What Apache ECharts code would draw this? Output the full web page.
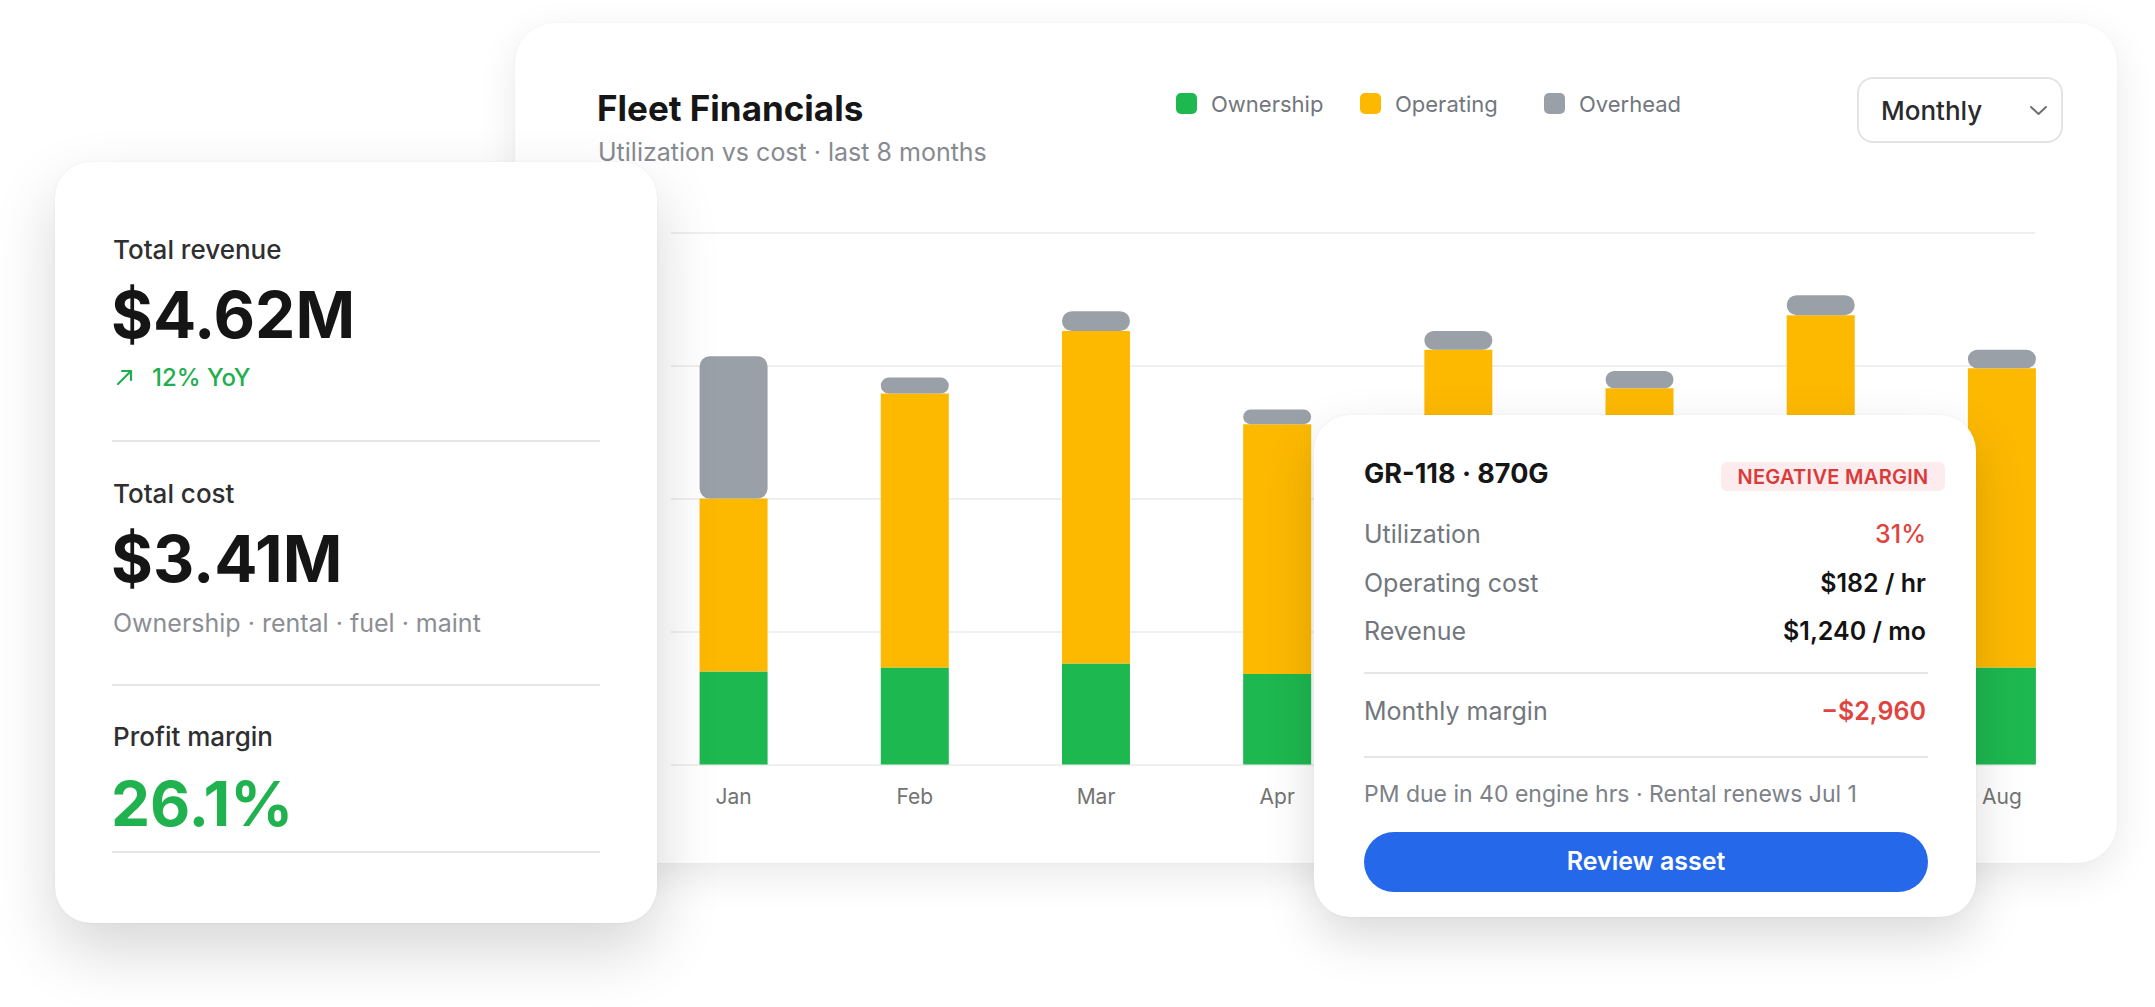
<!DOCTYPE html>
<html>
<head>
<meta charset="utf-8">
<title>Fleet Financials</title>
<script src="https://cdn.jsdelivr.net/npm/echarts@6/dist/echarts.min.js"></script>
<style>
  html, body { margin:0; padding:0; width:2155px; height:1007px; background:#ffffff; overflow:hidden;
    font-family: Inter, "Noto Sans", "Liberation Sans", sans-serif; }
  .card { position:absolute; background:#ffffff; }
  #mainCard { left:515px; top:23px; width:1602px; height:840px; border-radius:40px;
    box-shadow: 0 12px 40px rgba(0,0,0,0.09), 0 0 3px rgba(0,0,0,0.04); z-index:1; }
  #chart { position:absolute; left:0; top:0; width:2155px; height:1007px; z-index:2; }
  #kpiCard { left:55px; top:162px; width:602px; height:761px; border-radius:36px;
    box-shadow: 0 28px 64px rgba(0,0,0,0.16), 0 0 3px rgba(0,0,0,0.05); z-index:3; }
  #tipCard { left:1314px; top:415px; width:662px; height:502px; border-radius:36px;
    box-shadow: 0 20px 50px rgba(0,0,0,0.15), 0 0 3px rgba(0,0,0,0.05); z-index:3; }
  .t { position:absolute; line-height:1; white-space:nowrap; z-index:5; }
  .rule { position:absolute; height:2px; background:#e6e6e8; z-index:5; }
  .lbl { font-size:26px; color:#2f2f31; font-weight:500; }
  .big { font-size:64px; color:#151515; font-weight:700; }
  .row { font-size:25px; color:#72767d; }
  .val { font-size:25px; color:#131313; font-weight:600; text-align:right; }
  #dropdown { position:absolute; left:1857px; top:77px; width:202px; height:62px; border:2px solid #e4e4e6;
    border-radius:16px; background:#fff; z-index:4; }
  #badge { position:absolute; left:1721px; top:462px; width:224px; height:29px; border-radius:6px;
    background:#fdeced; z-index:4; }
  #button { position:absolute; left:1364px; top:832px; width:564px; height:60px; border-radius:30px;
    background:#2568e9; z-index:4; }
</style>
</head>
<body>
<div id="mainCard" class="card"></div>
<div id="chart"></div>
<div id="kpiCard" class="card"></div>
<div id="tipCard" class="card"></div>

<!-- KPI card texts -->
<div class="t lbl" style="left:113px; top:237px;">Total revenue</div>
<div class="t big" style="left:111px; top:283px;">$4.62M</div>
<svg style="position:absolute; left:112px; top:365px; z-index:5;" width="26" height="24" viewBox="0 0 26 24">
  <path d="M6 19 L19 6 M10 6 H19 V15" fill="none" stroke="#22ae4f" stroke-width="2.2" stroke-linecap="round" stroke-linejoin="round"/>
</svg>
<div class="t" style="left:152px; top:366px; font-size:24px; font-weight:500; color:#22ae4f;">12% YoY</div>
<div class="rule" style="left:112px; top:440px; width:488px;"></div>
<div class="t lbl" style="left:113px; top:481px;">Total cost</div>
<div class="t big" style="left:111px; top:527px;">$3.41M</div>
<div class="t" style="left:113px; top:611px; font-size:25px; color:#8b8e94;">Ownership · rental · fuel · maint</div>
<div class="rule" style="left:112px; top:684px; width:488px;"></div>
<div class="t lbl" style="left:113px; top:724px;">Profit margin</div>
<div class="t big" style="left:111px; top:773px; font-size:62px; color:#1fb24f;">26.1%</div>
<div class="rule" style="left:112px; top:851px; width:488px;"></div>

<!-- Dropdown -->
<div id="dropdown"></div>
<div class="t" style="left:1881px; top:98px; font-size:26px; color:#2a2a2c; font-weight:500;">Monthly</div>
<svg style="position:absolute; left:2026px; top:102px; z-index:5;" width="26" height="18" viewBox="0 0 26 18">
  <path d="M5 5 L12.5 12 L20 5" fill="none" stroke="#707074" stroke-width="2" stroke-linecap="round" stroke-linejoin="round"/>
</svg>

<!-- Tooltip card texts -->
<div class="t" style="left:1364px; top:460px; font-size:27px; font-weight:700; color:#161616;">GR-118 · 870G</div>
<div id="badge"></div>
<div class="t" style="left:1721px; top:467px; width:224px; text-align:center; font-size:20px; font-weight:600; color:#d93b3b; letter-spacing:0.3px;">NEGATIVE MARGIN</div>
<div class="t row" style="left:1364px; top:522px;">Utilization</div>
<div class="t val" style="right:229px; top:522px; color:#e0443e; font-weight:500;">31%</div>
<div class="t row" style="left:1364px; top:571px;">Operating cost</div>
<div class="t val" style="right:229px; top:571px;">$182 / hr</div>
<div class="t row" style="left:1364px; top:619px;">Revenue</div>
<div class="t val" style="right:229px; top:619px;">$1,240 / mo</div>
<div class="rule" style="left:1364px; top:672px; width:564px;"></div>
<div class="t row" style="left:1364px; top:699px;">Monthly margin</div>
<div class="t val" style="right:229px; top:699px; color:#e0443e;">−$2,960</div>
<div class="rule" style="left:1364px; top:756px; width:564px;"></div>
<div class="t" style="left:1364px; top:783px; font-size:23px; color:#7d8188;">PM due in 40 engine hrs · Rental renews Jul 1</div>
<div id="button"></div>
<div class="t" style="left:1364px; top:849px; width:564px; text-align:center; font-size:25px; font-weight:600; color:#ffffff;">Review asset</div>

<script>
// ---- data ----
const months = ['Jan', 'Feb', 'Mar', 'Apr', 'May', 'Jun', 'Jul', 'Aug'];
const ownership = [70, 73, 76, 68, 71, 72, 75, 73];
const operating = [130, 206, 250, 188, 241, 211, 263, 225];
const overhead = [107, 12, 15, 11, 14, 13, 15, 14];
const seriesNames = ['Ownership', 'Operating', 'Overhead'];
const seriesColors = ['#1db84f', '#fdb900', '#9aa0a8'];
const yMin = 0;
const yMax = 400;
const yStep = 100;
// month labels that sit underneath the asset detail card in the reference
const labelsUnderCard = ['May', 'Jun', 'Jul'];

const chart = echarts.init(document.getElementById('chart'), null, { renderer: 'svg' });

const legendLefts = [1176, 1360, 1544];
const roundSquare = 'path://M5,0 H16 A5,5 0 0 1 21,5 V16 A5,5 0 0 1 16,21 H5 A5,5 0 0 1 0,16 V5 A5,5 0 0 1 5,0 Z';

const option = {
  animation: false,
  backgroundColor: 'transparent',
  textStyle: { fontFamily: 'Inter, "Noto Sans", sans-serif' },
  title: [
    { text: 'Fleet Financials', left: 597, top: 90, padding: 0,
      textStyle: { fontFamily: 'Inter', fontSize: 35, fontWeight: 700, color: '#161616' } },
    { text: 'Utilization vs cost · last 8 months', left: 598, top: 139, padding: 0,
      textStyle: { fontFamily: 'Inter', fontSize: 25, fontWeight: 400, color: '#878a90' } }
  ],
  legend: seriesNames.map((name, i) => ({
    data: [name],
    left: legendLefts[i],
    top: 92.5,
    padding: 0,
    itemWidth: 21,
    itemHeight: 21,
    icon: roundSquare,
    selectedMode: false,
    textStyle: { fontFamily: 'Inter', fontSize: 22, color: '#72767d', padding: [0, 0, 0, 9] }
  })),
  grid: [
    { left: 643, top: 232.7, width: 1449.5, height: 531.8 },
    { left: 671, top: 232.7, width: 1364, height: 531.8 }
  ],
  xAxis: [
    { type: 'category', gridIndex: 0, data: months,
      axisLine: { show: false }, axisTick: { show: false }, splitLine: { show: false },
      axisLabel: { color: '#737373', fontSize: 21, margin: 21, fontFamily: 'Inter',
        interval: (idx, value) => labelsUnderCard.indexOf(value) < 0 } },
    { type: 'value', gridIndex: 1, min: 0, max: 1, show: false }
  ],
  yAxis: [
    { type: 'value', gridIndex: 0, min: yMin, max: yMax, interval: yStep, show: false },
    { type: 'value', gridIndex: 1, min: yMin, max: yMax, interval: yStep,
      axisLine: { show: false }, axisTick: { show: false }, axisLabel: { show: false },
      splitLine: { show: true, lineStyle: { color: '#efefef', width: 2 } } }
  ],
  series: [
    { name: seriesNames[0], type: 'bar', stack: 'cost', xAxisIndex: 0, yAxisIndex: 0, barWidth: 68,
      data: ownership, itemStyle: { color: seriesColors[0] }, emphasis: { disabled: true } },
    { name: seriesNames[1], type: 'bar', stack: 'cost', xAxisIndex: 0, yAxisIndex: 0, barWidth: 68,
      data: operating, itemStyle: { color: seriesColors[1] }, emphasis: { disabled: true } },
    { name: seriesNames[2], type: 'bar', stack: 'cost', xAxisIndex: 0, yAxisIndex: 0, barWidth: 68,
      data: overhead, itemStyle: { color: seriesColors[2], borderRadius: 10 }, emphasis: { disabled: true } }
  ]
};
chart.setOption(option);
</script>
</body>
</html>
